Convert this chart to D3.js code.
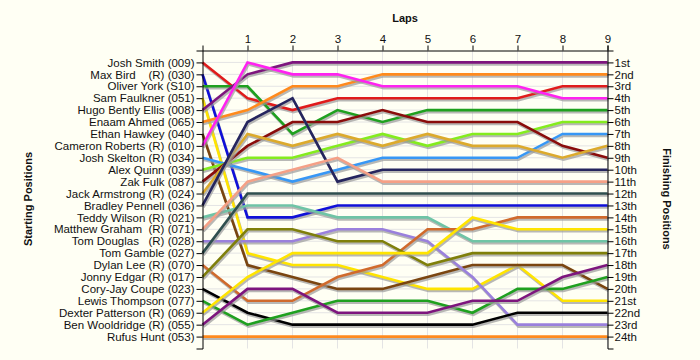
<!DOCTYPE html>
<html>
<head>
<meta charset="utf-8">
<script src="https://cdn.jsdelivr.net/npm/d3@7"></script>
<style>
  html, body { margin: 0; padding: 0; background: #fffff4; }
  svg { display: block; }
  text { font-family: "Liberation Sans", Arial, sans-serif; fill: #111; }
</style>
</head>
<body>
<svg id="chart" width="700" height="360"></svg>
<script>
// ---- data ----
const laps = [0, 1, 2, 3, 4, 5, 6, 7, 8, 9];
const lapTicks = [1, 2, 3, 4, 5, 6, 7, 8, 9];
const drivers = [
  "Josh Smith (009)",
  "Max Bird    (R) (030)",
  "Oliver York (S10)",
  "Sam Faulkner (051)",
  "Hugo Bently Ellis (008)",
  "Enaam Ahmed (065)",
  "Ethan Hawkey (040)",
  "Cameron Roberts (R) (010)",
  "Josh Skelton (R) (034)",
  "Alex Quinn (039)",
  "Zak Fulk (087)",
  "Jack Armstrong (R) (024)",
  "Bradley Pennell (036)",
  "Teddy Wilson (R) (021)",
  "Matthew Graham  (R) (071)",
  "Tom Douglas   (R) (028)",
  "Tom Gamble (027)",
  "Dylan Lee (R) (070)",
  "Jonny Edgar (R) (017)",
  "Cory-Jay Coupe (023)",
  "Lewis Thompson (077)",
  "Dexter Patterson (R) (069)",
  "Ben Wooldridge (R) (055)",
  "Rufus Hunt (053)"
];
const finishLabels = ["1st","2nd","3rd","4th","5th","6th","7th","8th","9th","10th","11th","12th",
  "13th","14th","15th","16th","17th","18th","19th","20th","21st","22nd","23rd","24th"];
// position of each driver at laps 0..9
const positions = [
  [1, 4, 5, 4, 4, 4, 4, 4, 3, 3],      // Josh Smith
  [2, 14, 14, 13, 13, 13, 13, 13, 13, 13], // Max Bird
  [3, 3, 7, 5, 6, 5, 5, 5, 5, 5],      // Oliver York
  [4, 17, 18, 18, 19, 20, 20, 18, 21, 21], // Sam Faulkner
  [5, 2, 1, 1, 1, 1, 1, 1, 1, 1],      // Hugo Bently Ellis
  [6, 5, 3, 3, 2, 2, 2, 2, 2, 2],      // Enaam Ahmed
  [7, 18, 19, 20, 20, 19, 18, 18, 18, 20], // Ethan Hawkey
  [8, 1, 2, 2, 3, 3, 3, 3, 4, 4],      // Cameron Roberts
  [9, 10, 11, 10, 9, 9, 9, 9, 7, 7],   // Josh Skelton
  [10, 9, 9, 8, 7, 8, 7, 7, 6, 6],     // Alex Quinn
  [11, 8, 6, 6, 5, 6, 6, 6, 8, 9],     // Zak Fulk
  [12, 7, 8, 7, 8, 7, 8, 8, 9, 8],     // Jack Armstrong
  [13, 6, 4, 11, 10, 10, 10, 10, 10, 10], // Bradley Pennell
  [14, 13, 13, 14, 14, 14, 16, 16, 16, 16], // Teddy Wilson
  [15, 11, 10, 9, 11, 11, 11, 11, 11, 11],  // Matthew Graham
  [16, 16, 16, 15, 15, 16, 19, 23, 23, 23], // Tom Douglas
  [17, 12, 12, 12, 12, 12, 12, 12, 12, 12], // Tom Gamble
  [18, 21, 21, 19, 18, 15, 15, 14, 14, 14], // Dylan Lee
  [19, 15, 15, 16, 16, 18, 17, 17, 17, 17], // Jonny Edgar
  [20, 22, 23, 23, 23, 23, 23, 22, 22, 22], // Cory-Jay Coupe
  [21, 23, 22, 21, 21, 21, 22, 20, 20, 19], // Lewis Thompson
  [22, 19, 17, 17, 17, 17, 14, 15, 15, 15], // Dexter Patterson
  [23, 20, 20, 22, 22, 22, 21, 21, 19, 18], // Ben Wooldridge
  [24, 24, 24, 24, 24, 24, 24, 24, 24, 24]  // Rufus Hunt
];
const colors = [
  "#e01b1b", "#1010d8", "#1fa01f", "#ffe400", "#7d157d", "#ff8a1c",
  "#7a4510", "#ff22f0", "#3797f5", "#84ec1e", "#8a0c0c", "#dcaa2c",
  "#25255e", "#6fc4a6", "#f5a086", "#9a80dc", "#2f4f4f", "#d06a2c",
  "#7f7f0a", "#000000", "#1fa01f", "#ffe400", "#7d157d", "#ff8a1c"
];

// ---- chart ----
const svg = d3.select("#chart");
const x = d3.scaleLinear().domain([0, 9]).range([202.5, 607.5]);
const y = d3.scaleLinear().domain([0, 25]).range([50.5, 348.5]);
const posTicks = d3.range(1, 25);

// gridlines
const grid = svg.append("g");
grid.selectAll("line.h").data(posTicks).join("line")
  .attr("x1", x(0)).attr("x2", x(9))
  .attr("y1", d => y(d)).attr("y2", d => y(d))
  .attr("stroke", "#e4e4e4").attr("stroke-width", 1);
grid.selectAll("line.v").data(lapTicks).join("line")
  .attr("x1", d => x(d)).attr("x2", d => x(d))
  .attr("y1", y(0)).attr("y2", y(25))
  .attr("stroke", "#e4e4e4").attr("stroke-width", 1);

// lines
const line = d3.line().x((d, i) => x(laps[i])).y(d => y(d));
const lg = svg.append("g");
positions.forEach((p, i) => {
  lg.append("path").attr("d", line(p))
    .attr("fill", "none").attr("stroke", "#9a9a9a").attr("stroke-opacity", 0.7)
    .attr("stroke-width", 2.6).attr("transform", "translate(1,2)");
  lg.append("path").attr("d", line(p))
    .attr("fill", "none").attr("stroke", colors[i])
    .attr("stroke-width", 2.6).attr("stroke-linejoin", "miter");
});

// axes
const fontSize = "11.5px";
const gLeft = svg.append("g").attr("transform", `translate(${x(0)},0)`)
  .call(d3.axisLeft(y).tickValues(posTicks).tickFormat(d => drivers[d - 1])
    .tickSize(6).tickSizeOuter(6).tickPadding(2));
const gRight = svg.append("g").attr("transform", `translate(${x(9)},0)`)
  .call(d3.axisRight(y).tickValues(posTicks).tickFormat(d => finishLabels[d - 1])
    .tickSize(6).tickSizeOuter(6).tickPadding(1));
const gTop = svg.append("g").attr("transform", `translate(0,${y(0)})`)
  .call(d3.axisTop(x).tickValues(lapTicks).tickFormat(d3.format("d"))
    .tickSize(5).tickSizeOuter(5).tickPadding(3));

[gLeft, gRight, gTop].forEach(g => {
  g.selectAll("path, line").attr("stroke", "#000");
  g.selectAll("text").attr("font-size", fontSize)
    .attr("font-family", "'Liberation Sans', Arial, sans-serif")
    .attr("fill", "#111").style("white-space", "pre");
});

// titles
svg.append("text").attr("x", 405).attr("y", 22).attr("text-anchor", "middle")
  .attr("font-size", "11px").attr("font-weight", "bold").text("Laps");
svg.append("text").attr("transform", "translate(32,199) rotate(-90)")
  .attr("text-anchor", "middle").attr("font-size", "11px").attr("font-weight", "bold")
  .text("Starting Positions");
svg.append("text").attr("transform", "translate(663,199) rotate(90)")
  .attr("text-anchor", "middle").attr("font-size", "11px").attr("font-weight", "bold")
  .text("Finishing Positions");
</script>
</body>
</html>
